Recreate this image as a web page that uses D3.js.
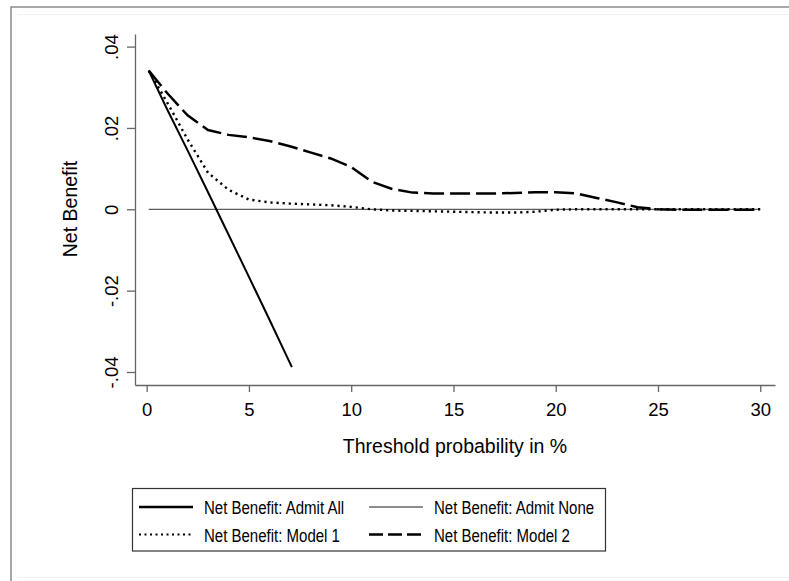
<!DOCTYPE html>
<html>
<head>
<meta charset="utf-8">
<script src="https://cdn.jsdelivr.net/npm/d3@7"></script>
<style>
  body { margin: 0; background: #fff; }
  text { font-family: "Liberation Sans", Arial, sans-serif; fill: #000; }
</style>
</head>
<body>
<div id="chart"></div>
<script>
"use strict";

// threshold probabilities (%) and net benefit values
var allX = [0.1, 1, 2, 3, 4, 5, 6, 7.1];
var allY = [0.0341, 0.0246, 0.0145, 0.0042, -0.0062, -0.0166, -0.0271, -0.0388];

var noneX = [0.1, 30];
var noneY = [0, 0];

var modelX = [0.1, 1, 2, 3, 4, 5, 6, 7, 8, 9, 10, 11, 12, 13, 14, 15, 16, 17, 18, 19, 20,
              21, 22, 23, 24, 25, 26, 27, 28, 29, 30];
var model1Y = [0.0341, 0.0263, 0.0172, 0.0090, 0.0048, 0.0024, 0.0017, 0.0014, 0.0012, 0.0010, 0.0006,
               0.0000, -0.0003, -0.0004, -0.0005, -0.0006, -0.0007, -0.0008, -0.0008, -0.0006, -0.0001,
               0.0000, 0.0000, 0.0000, 0.0000, 0.0000, 0.0000, 0.0000, 0.0000, 0.0000, 0.0000];
var model2Y = [0.0341, 0.0286, 0.0231, 0.0195, 0.0183, 0.0177, 0.0168, 0.0155, 0.0140, 0.0125, 0.0104,
               0.0068, 0.0050, 0.0041, 0.0039, 0.0039, 0.0039, 0.0039, 0.0040, 0.0042, 0.0042,
               0.0039, 0.0028, 0.0017, 0.0005, 0.0000, -0.0001, -0.0001, -0.0001, -0.0001, -0.0001];

var xTicks = [0, 5, 10, 15, 20, 25, 30];
var yTicks = [-0.04, -0.02, 0, 0.02, 0.04];
var yTickLabels = ["-.04", "-.02", "0", ".02", ".04"];

var legendNames = ["Net Benefit: Admit All", "Net Benefit: Admit None",
                   "Net Benefit: Model 1", "Net Benefit: Model 2"];

var width = 789, height = 581;

var svg = d3.select("#chart")
    .append("svg")
    .attr("width", width)
    .attr("height", height);

// outer frame
svg.append("rect")
    .attr("x", 11).attr("y", 7)
    .attr("width", width).attr("height", height)
    .attr("fill", "#fff")
    .attr("stroke", "#7a7a7a")
    .attr("stroke-width", 1.3);
svg.append("line")
    .attr("x1", 18).attr("x2", width).attr("y1", 14.5).attr("y2", 14.5)
    .attr("stroke", "#eef3f3");
svg.append("line")
    .attr("x1", 18).attr("x2", width).attr("y1", 577.5).attr("y2", 577.5)
    .attr("stroke", "#eef3f3");

var x = d3.scaleLinear().domain([-0.57, 30.72]).range([135, 775]);
var y = d3.scaleLinear().domain([-0.0432, 0.0431]).range([385, 34]);

// axes
var xAxis = svg.append("g")
    .attr("transform", "translate(0,385)")
    .call(d3.axisBottom(x).tickValues(xTicks).tickSize(7).tickPadding(6).tickSizeOuter(0));
var yAxis = svg.append("g")
    .attr("transform", "translate(135,0)")
    .call(d3.axisLeft(y).tickValues(yTicks).tickSize(8).tickSizeOuter(0)
        .tickFormat(function (d, i) { return yTickLabels[i]; }));

[xAxis, yAxis].forEach(function (g) {
    g.select(".domain").attr("stroke", "#666").attr("stroke-width", 1.3);
    g.selectAll(".tick line").attr("stroke", "#666").attr("stroke-width", 1.3);
    g.selectAll(".tick text")
        .attr("font-size", "18.5px")
        .attr("font-family", "Liberation Sans, Arial, sans-serif")
        .attr("fill", "#000");
});

yAxis.selectAll(".tick text")
    .attr("x", null).attr("dy", null)
    .attr("text-anchor", "middle")
    .attr("transform", "translate(-17,0) rotate(-90)");

xAxis.selectAll(".tick text").attr("dy", "0.95em");

// axis titles
svg.append("text")
    .attr("x", 455).attr("y", 453)
    .attr("text-anchor", "middle")
    .attr("font-size", "19.5px")
    .text("Threshold probability in %");

svg.append("text")
    .attr("transform", "translate(77,209) rotate(-90)")
    .attr("text-anchor", "middle")
    .attr("font-size", "19.5px")
    .text("Net Benefit");

// series
var line = d3.line()
    .x(function (d) { return x(d[0]); })
    .y(function (d) { return y(d[1]); });

function zipXY(xs, ys) {
    return xs.map(function (v, i) { return [v, ys[i]]; });
}

var styles = [
    { width: 2, dash: null },
    { width: 0.8, dash: null },
    { width: 2.4, dash: "2.2,3.9" },
    { width: 2.5, dash: "20,6" }
];

var series = [zipXY(allX, allY), zipXY(noneX, noneY), zipXY(modelX, model1Y), zipXY(modelX, model2Y)];

[1, 0, 2, 3].forEach(function (i) {
    svg.append("path")
        .datum(series[i])
        .attr("d", line)
        .attr("fill", "none")
        .attr("stroke", "#000")
        .attr("stroke-width", styles[i].width)
        .attr("stroke-dasharray", styles[i].dash);
});

// legend
svg.append("rect")
    .attr("x", 132.5).attr("y", 488.5)
    .attr("width", 473).attr("height", 62.5)
    .attr("fill", "#fff")
    .attr("stroke", "#333")
    .attr("stroke-width", 1.2);

var legendPos = [[139, 507], [369, 507], [139, 534.5], [369, 534.5]];
var legendDash = [null, null, "2,3.5", "14,5"];

legendNames.forEach(function (name, i) {
    var p = legendPos[i];
    svg.append("line")
        .attr("x1", p[0]).attr("x2", p[0] + 54)
        .attr("y1", p[1]).attr("y2", p[1])
        .attr("stroke", "#000")
        .attr("stroke-width", i === 1 ? 0.9 : (i === 2 ? 2 : 2.4))
        .attr("stroke-dasharray", legendDash[i]);
    svg.append("text")
        .attr("transform", "translate(" + (p[0] + 65) + "," + (p[1] + 7) + ") scale(0.79,1)")
        .attr("font-size", "19px")
        .text(name);
});
</script>
</body>
</html>
